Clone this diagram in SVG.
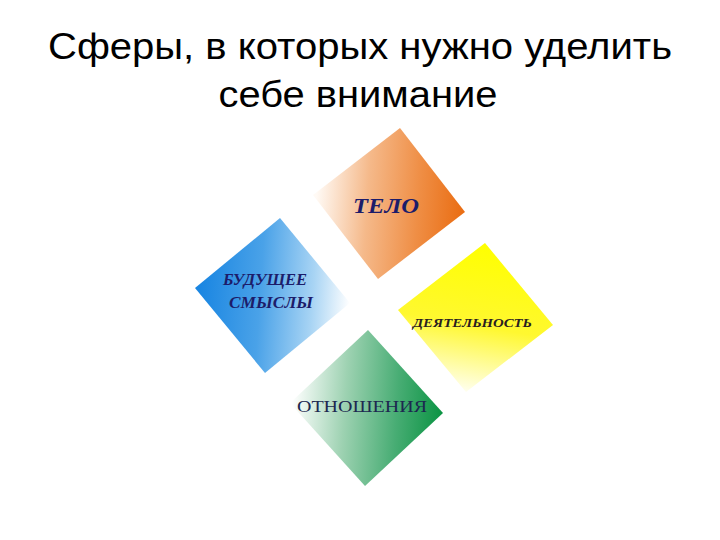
<svg xmlns="http://www.w3.org/2000/svg" width="720" height="540" viewBox="0 0 720 540">
<defs>
<linearGradient id="gO" gradientUnits="userSpaceOnUse" x1="316" y1="200" x2="462" y2="210">
<stop offset="0" stop-color="#fffaf5"/><stop offset="0.35" stop-color="#f5b98a"/><stop offset="0.7" stop-color="#ef8e45"/><stop offset="1" stop-color="#ea6e14"/>
</linearGradient>
<linearGradient id="gB" gradientUnits="userSpaceOnUse" x1="200" y1="290" x2="350" y2="300">
<stop offset="0" stop-color="#1a86e2"/><stop offset="0.4" stop-color="#4aa2e8"/><stop offset="0.75" stop-color="#a8d4f4"/><stop offset="1" stop-color="#ffffff"/>
</linearGradient>
<linearGradient id="gY" gradientUnits="userSpaceOnUse" x1="490" y1="245" x2="465" y2="392">
<stop offset="0" stop-color="#ffff00"/><stop offset="0.55" stop-color="#fff830"/><stop offset="1" stop-color="#fffff0"/>
</linearGradient>
<linearGradient id="gG" gradientUnits="userSpaceOnUse" x1="292" y1="400" x2="442" y2="410">
<stop offset="0" stop-color="#ffffff"/><stop offset="0.35" stop-color="#9ed2b2"/><stop offset="0.7" stop-color="#48ad74"/><stop offset="1" stop-color="#0c9444"/>
</linearGradient>
<style>
.t{font-family:"Liberation Sans",Arial,sans-serif;font-size:37px;fill:#000;text-anchor:middle}
.l{font-family:"Liberation Serif","Times New Roman",serif;font-weight:bold;fill:#1c1c6a}
.i{font-style:italic}
</style>
</defs>
<rect width="720" height="540" fill="#fff"/>
<g id="title">
<text class="t" x="360" y="59" textLength="624" lengthAdjust="spacingAndGlyphs">Сферы, в которых нужно уделить</text>
<text class="t" x="358" y="107" textLength="279" lengthAdjust="spacingAndGlyphs">себе внимание</text>
</g>
<g id="telo">
<polygon points="400,128 465,212 378,279 313,195" fill="url(#gO)"/>
<text class="l i" x="353" y="213" font-size="22" textLength="66" lengthAdjust="spacingAndGlyphs">ТЕЛО</text>
</g>
<g id="budushchee">
<polygon points="280,218 350,303 265,373 195,288" fill="url(#gB)"/>
<text class="l i" x="223" y="285" font-size="17" textLength="84" lengthAdjust="spacingAndGlyphs">БУДУЩЕЕ</text>
<text class="l i" x="229" y="308" font-size="17" textLength="84" lengthAdjust="spacingAndGlyphs">СМЫСЛЫ</text>
</g>
<g id="deyatelnost">
<polygon points="485,243 553,325 466,392 398,310" fill="url(#gY)"/>
<text class="l i" x="413" y="327" font-size="13" style="fill:#2a2020" textLength="119" lengthAdjust="spacingAndGlyphs">ДЕЯТЕЛЬНОСТЬ</text>
</g>
<g id="otnosheniya">
<polygon points="368,330 443,413 365,486 290,403" fill="url(#gG)"/>
<text class="l" x="297" y="412" font-size="17" style="fill:#1c2850;font-weight:normal" textLength="130" lengthAdjust="spacingAndGlyphs">ОТНОШЕНИЯ</text>
</g>
<g id="connectors"/>
</svg>
